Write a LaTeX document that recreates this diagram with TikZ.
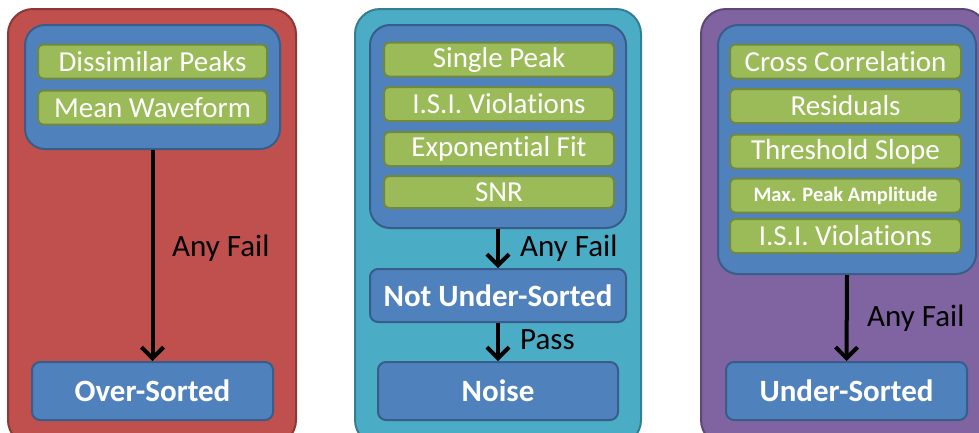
\documentclass[tikz,border=0pt]{standalone}
\usepackage{fontspec}
\setmainfont{Carlito}[Ligatures=NoCommon]
\usetikzlibrary{arrows.meta}
\definecolor{pred}{HTML}{C0504D}\definecolor{predb}{HTML}{8C3836}
\definecolor{pcyan}{HTML}{4BACC6}\definecolor{pcyanb}{HTML}{357D91}
\definecolor{ppur}{HTML}{8064A2}\definecolor{ppurb}{HTML}{5C4776}
\definecolor{bblue}{HTML}{4F81BD}\definecolor{bblueb}{HTML}{385D8A}
\definecolor{ggreen}{HTML}{9BBB59}\definecolor{ggreenb}{HTML}{71893F}
\tikzset{
  panel/.style={draw=#1, line width=2pt, rounded corners=25pt, inner sep=0pt},
  inner/.style={fill=bblue, draw=bblueb, line width=2pt, rounded corners=20pt, inner sep=0pt},
  testbox/.style={fill=ggreen, draw=ggreenb, line width=2pt, rounded corners=5pt, inner sep=0pt,
    text=white, font=\fontsize{29}{34}\selectfont, minimum height=34pt},
  result/.style={fill=bblue, draw=bblueb, line width=2pt, rounded corners=8pt, inner sep=0pt,
    text=white, font=\bfseries\fontsize{31}{36}\selectfont},
  flow/.style={line width=4pt, -{Straight Barb[length=11pt,width=22pt,line width=4pt]}},
  lbl/.style={anchor=west, inner sep=0pt, font=\fontsize{31}{36}\selectfont}
}
\begin{document}
\begin{tikzpicture}[x=1pt,y=-1pt]
\useasboundingbox (0,0) rectangle (979,432);
\clip (0,0) rectangle (979,432);
% panels
\node[panel=predb, fill=pred, minimum width=288pt, minimum height=436pt] (p1) at (152,227) {};
\node[panel=pcyanb, fill=pcyan, minimum width=286pt, minimum height=436pt] (p2) at (498,227) {};
\node[panel=ppurb, fill=ppur, minimum width=286pt, minimum height=436pt] (p3) at (844,227) {};
% panel 1
\node[inner, minimum width=255pt, minimum height=124pt] (i1) at (152.5,87) {};
\node[testbox, minimum width=229pt] (g11) at (152.5,61.5) {Dissimilar Peaks};
\node[testbox, minimum width=229pt] (g12) at (152.5,107.5) {Mean Waveform};
\node[result, minimum width=241pt, minimum height=58pt] (r1) at (152.5,391) {Over-Sorted};
\draw[flow] (i1.south) -- (r1.north);
\node[lbl] (l1) at (172,248) {Any Fail};
% panel 2
\node[inner, minimum width=256pt, minimum height=203pt] (i2) at (498,126.5) {};
\node[testbox, minimum width=230pt] (g21) at (499,59.5) {Single Peak};
\node[testbox, minimum width=230pt] (g22) at (499,104) {I.S.I. Violations};
\node[testbox, minimum width=230pt] (g23) at (499,149) {Exponential Fit};
\node[testbox, minimum width=230pt, minimum height=32pt] (g24) at (499,192) {SNR};
\node[result, minimum width=256pt, minimum height=53pt] (n2) at (498,295.5) {Not Under-Sorted};
\node[result, minimum width=240pt, minimum height=58pt] (r2) at (498,391) {Noise};
\draw[flow] (i2.south) -- (n2.north);
\draw[flow] (n2.south) -- (r2.north);
\node[lbl] (l21) at (520,248) {Any Fail};
\node[lbl] (l22) at (520,340) {Pass};
% panel 3
\node[inner, minimum width=258pt, minimum height=249pt] (i3) at (847,149.5) {};
\node[testbox, minimum width=231pt] (g31) at (845.5,61.5) {Cross Correlation};
\node[testbox, minimum width=231pt] (g32) at (845.5,106) {Residuals};
\node[testbox, minimum width=231pt] (g33) at (845.5,151.5) {Threshold Slope};
\node[testbox, minimum width=231pt, font=\bfseries\fontsize{20.5}{24}\selectfont] (g34) at (845.5,195.5) {Max. Peak Amplitude};
\node[testbox, minimum width=231pt] (g35) at (845.5,236) {I.S.I. Violations};
\node[result, minimum width=241pt, minimum height=58pt] (r3) at (846.5,391) {Under-Sorted};
\draw[flow] (i3.south) -- (r3.north);
\node[lbl] (l3) at (867,318) {Any Fail};
\end{tikzpicture}
\end{document}
